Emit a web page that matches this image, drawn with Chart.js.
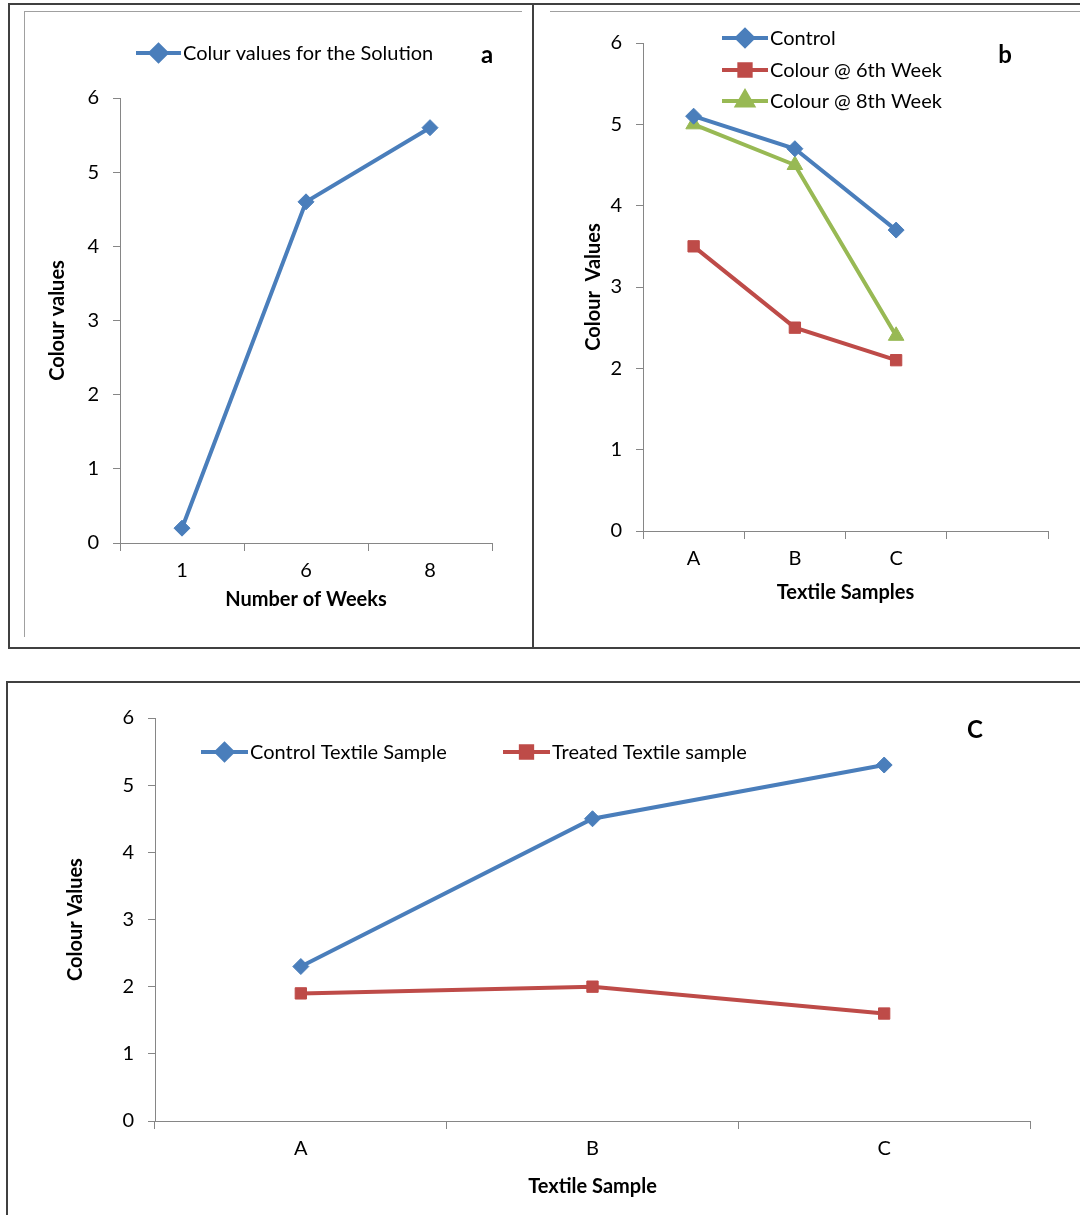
<!DOCTYPE html>
<html>
<head>
<meta charset="utf-8">
<script src="https://cdn.jsdelivr.net/npm/chart.js@4.4.1/dist/chart.umd.min.js"></script>
<style>
  body { margin: 0; background: #fff; }
  #page { position: relative; width: 1080px; height: 1215px; overflow: hidden; background: #fff; }
  .ln { position: absolute; }
  canvas { position: absolute; }
</style>
</head>
<body>
<div id="page">
  <!-- panel frames -->
  <div class="ln" style="left:8px;top:3px;width:1072px;height:0;border-top:2px solid #404040"></div>
  <div class="ln" style="left:8px;top:3px;width:0;height:645px;border-left:2px solid #404040"></div>
  <div class="ln" style="left:532px;top:3px;width:0;height:645px;border-left:2px solid #404040"></div>
  <div class="ln" style="left:8px;top:647px;width:1072px;height:0;border-top:2px solid #404040"></div>
  <div class="ln" style="left:24px;top:11px;width:498px;height:0;border-top:1px solid #a0a0a0"></div>
  <div class="ln" style="left:24px;top:11px;width:0;height:626px;border-left:1px solid #a0a0a0"></div>
  <div class="ln" style="left:550px;top:11px;width:530px;height:0;border-top:1px solid #a0a0a0"></div>
  <div class="ln" style="left:6px;top:681px;width:1074px;height:0;border-top:2px solid #404040"></div>
  <div class="ln" style="left:6px;top:681px;width:0;height:534px;border-left:2px solid #404040"></div>

  <canvas id="chart_a" style="left:0;top:0" width="533" height="648"></canvas>
  <canvas id="chart_b" style="left:533px;top:0" width="547" height="648"></canvas>
  <canvas id="chart_c" style="left:0;top:682px" width="1080" height="533"></canvas>
</div>
<script>
// data
var weeks = ["1", "6", "8"];
var solution_values = [0.2, 4.6, 5.6];

var samples_b = ["A", "B", "C", ""];
var control_b = [5.1, 4.7, 3.7];
var week6_b = [3.5, 2.5, 2.1];
var week8_b = [5.0, 4.5, 2.4];

var samples_c = ["A", "B", "C"];
var control_c = [2.3, 4.5, 5.3];
var treated_c = [1.9, 2.0, 1.6];

var y_min = 0, y_max = 6, y_step = 1;

var azul = "#4a7ebb";
var rojo = "#be4b48";
var verde = "#98b954";
var gris = "#868686";
var fuente = "Lato, 'Open Sans', sans-serif";

Chart.defaults.font.family = fuente;
Chart.defaults.color = "#000";

// legend + panel letter drawn at fixed spots
var leyenda = {
    id: "leyenda",
    afterDraw: function (chart, args, opts) {
        var ctx = chart.ctx;
        ctx.save();
        chart.data.datasets.forEach(function (ds, i) {
            var p = opts.items[i];
            ctx.strokeStyle = ds.borderColor;
            ctx.lineWidth = 4;
            ctx.beginPath();
            ctx.moveTo(p[0], p[1]);
            ctx.lineTo(p[0] + opts.len, p[1]);
            ctx.stroke();
            Chart.helpers.drawPoint(ctx, {
                pointStyle: ds.pointStyle,
                radius: ds.pointRadius,
                borderWidth: 1,
                rotation: 0
            }, p[0] + opts.len / 2, p[1]);
            ctx.fillStyle = ds.borderColor;
            ctx.fill();
            ctx.fillStyle = "#000";
            ctx.font = "20px " + fuente;
            ctx.textBaseline = "middle";
            ctx.textAlign = "left";
            ctx.fillText(ds.label, p[0] + opts.len + 2, p[1] + 1);
        });
        ctx.font = "bold 24px " + fuente;
        ctx.textAlign = "center";
        ctx.textBaseline = "middle";
        ctx.fillText(opts.letra[0], opts.letra[1], opts.letra[2]);
        ctx.restore();
    }
};

function serie(label, data, color, estilo, radio) {
    return {
        label: label,
        data: data,
        borderColor: color,
        backgroundColor: color,
        borderWidth: 4,
        pointStyle: estilo,
        pointRadius: radio,
        pointHoverRadius: radio,
        pointBorderWidth: 1,
        tension: 0,
        fill: false
    };
}

function opciones(cfg) {
    return {
        responsive: false,
        animation: false,
        events: [],
        layout: { padding: cfg.padding },
        plugins: {
            legend: { display: false },
            tooltip: { enabled: false },
            leyenda: cfg.leyenda
        },
        scales: {
            x: {
                offset: true,
                afterFit: function (s) { s.height = 80; },
                grid: { offset: true, drawOnChartArea: false, drawTicks: true, tickLength: 8, color: gris },
                border: { display: true, color: gris, width: 1 },
                ticks: { padding: 8, font: { size: 20 }, color: "#000", maxRotation: 0 },
                title: { display: true, text: cfg.xTitle, font: { size: 20, weight: "bold" }, color: "#000", padding: { top: 0, bottom: cfg.xTitlePad } }
            },
            y: {
                min: y_min,
                max: y_max,
                afterFit: function (s) { s.width = cfg.yWidth; },
                grid: { drawOnChartArea: false, drawTicks: true, tickLength: 7, color: gris },
                border: { display: true, color: gris, width: 1 },
                ticks: { stepSize: y_step, padding: 14, font: { size: 20 }, color: "#000" },
                title: { display: true, text: cfg.yTitle, font: { size: 20, weight: "bold" }, color: "#000", padding: { top: cfg.yTitlePad, bottom: 0 } }
            }
        }
    };
}

var chart_a = new Chart(document.getElementById("chart_a"), {
    type: "line",
    data: {
        labels: weeks,
        datasets: [serie("Colur values for the Solution", solution_values, azul, "rectRot", 8)]
    },
    options: opciones({
        padding: { top: 98, right: 41, left: 0, bottom: 25 },
        yWidth: 120,
        yTitle: "Colour values",
        yTitlePad: 46,
        xTitle: "Number of Weeks",
        xTitlePad: 11,
        leyenda: { items: [[136, 53]], len: 45, letra: ["a", 487, 55] }
    }),
    plugins: [leyenda]
});

var chart_b = new Chart(document.getElementById("chart_b"), {
    type: "line",
    data: {
        labels: samples_b,
        datasets: [
            serie("Control", control_b, azul, "rectRot", 8),
            serie("Colour @ 6th Week", week6_b, rojo, "rect", 8),
            serie("Colour @ 8th Week", week8_b, verde, "triangle", 9)
        ]
    },
    options: opciones({
        padding: { top: 43, right: 32, left: 0, bottom: 37 },
        yWidth: 110,
        yTitle: "Colour  Values",
        yTitlePad: 49,
        xTitle: "Textile Samples",
        xTitlePad: 6,
        leyenda: { items: [[189, 38], [189, 70], [189, 101]], len: 46, letra: ["b", 472, 55] }
    }),
    plugins: [leyenda]
});

var chart_c = new Chart(document.getElementById("chart_c"), {
    type: "line",
    data: {
        labels: samples_c,
        datasets: [
            serie("Control Textile Sample", control_c, azul, "rectRot", 8),
            serie("Treated Textile sample", treated_c, rojo, "rect", 8)
        ]
    },
    options: opciones({
        padding: { top: 36, right: 50, left: 0, bottom: 14 },
        yWidth: 155,
        yTitle: "Colour Values",
        yTitlePad: 64,
        xTitle: "Textile Sample",
        xTitlePad: 2,
        leyenda: { items: [[201, 70], [503, 70]], len: 47, letra: ["C", 975, 48] }
    }),
    plugins: [leyenda]
});
</script>
</body>
</html>
